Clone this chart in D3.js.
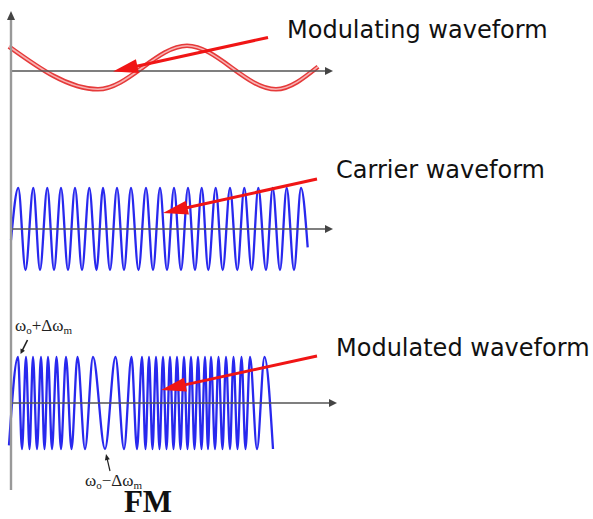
<!DOCTYPE html>
<html><head><meta charset="utf-8">
<script src="https://cdn.jsdelivr.net/npm/d3@7"></script>
<style>html,body{margin:0;padding:0;background:#fff;} svg{display:block}</style>
</head><body>
<svg id="c" width="593" height="519"></svg>
<script>
// ---- data (time units along the horizontal axis, amplitude units) ----
const modulatingTime  = [-2, 87, 176, 265, 307];
const modulatingValue = [1.02, -0.76, 1.05, -0.76, 0.18];

const carrierTime = [0, 7.3, 14.5, 22.3, 29, 36.3, 43, 50, 57, 64, 71, 78.3, 85.5, 92, 99, 106, 113, 120, 127.5, 135, 142,
  149, 156, 163, 170, 177, 184, 190.7, 197.3, 204.7, 211.7, 219, 226.3, 233.3, 240.7, 247.3, 255, 261.7, 269, 275.7, 283, 290, 296.7];
const carrierValue = [-0.27, 1, -1, 1, -1, 1, -1, 1, -1, 1, -1, 1, -1, 1, -1, 1, -1, 1, -1, 1, -1,
  1, -1, 1, -1, 1, -1, 1, -1, 1, -1, 1, -1, 1, -1, 1, -1, 1, -1, 1, -1, 1, -0.45];

const modulatedTime = [-2, 7, 11, 15, 18.5, 22, 26, 30, 33.5, 37, 41, 45.5, 50, 55, 60.5, 66.5, 74, 82, 94, 104.5, 113,
  120.5, 126, 131, 134.5, 138, 141.5, 145, 148.5, 152, 155.5, 159, 162.5, 166, 169.5, 173, 176.5, 180, 183.5, 187, 190.5,
  194, 197, 200, 204, 207.5, 211.5, 215, 219, 222.5, 226.5, 230.5, 234.5, 239, 246, 253.5, 262];
const modulatedValue = [-0.92, 1, -1, 1, -1, 1, -1, 1, -1, 1, -1, 1, -1, 1, -1, 1, -1, 1, -1, 1, -1,
  1, -1, 1, -1, 1, -1, 1, -1, 1, -1, 1, -1, 1, -1, 1, -1, 1, -1, 1, -1,
  1, -1, 1, -1, 1, -1, 1, -1, 1, -1, 1, -1, 1, -1, 1, -1];

const labels = ["Modulating waveform", "Carrier waveform", "Modulated waveform"];

// ---- drawing ----
const svg = d3.select('#c');
const x = d3.scaleLinear().domain([0, 322]).range([11, 333]);
const yMod = d3.scaleLinear().domain([-1, 1]).range([95, 47]);
const yCar = d3.scaleLinear().domain([-1, 1]).range([270, 188]);
const yFm  = d3.scaleLinear().domain([-1, 1]).range([449, 357]);

const zip = (t, v) => t.map((d, i) => ({t: d, v: v[i]}));
const lineFor = y => d3.line().x(d => x(d.t)).y(d => y(d.v)).curve(d3.curveMonotoneX);

// modulating (double red line)
const modData = zip(modulatingTime, modulatingValue);
svg.append('path').attr('d', lineFor(yMod)(modData)).attr('fill', 'none')
  .attr('stroke', '#e53a3a').attr('stroke-width', 4.6);
svg.append('path').attr('d', lineFor(yMod)(modData)).attr('fill', 'none')
  .attr('stroke', '#f8b2b2').attr('stroke-width', 1.6);

// carrier
svg.append('path').attr('d', lineFor(yCar)(zip(carrierTime, carrierValue))).attr('fill', 'none')
  .attr('stroke', '#2828ee').attr('stroke-width', 2.3);

// modulated
svg.append('path').attr('d', lineFor(yFm)(zip(modulatedTime, modulatedValue))).attr('fill', 'none')
  .attr('stroke', '#2828ee').attr('stroke-width', 2.3);

// horizontal axes with arrowheads
function hAxis(y, end) {
  const yy = y(0), x0 = x(0), x1 = x(end);
  svg.append('line').attr('x1', x0).attr('x2', x1 - 5).attr('y1', yy).attr('y2', yy)
    .attr('stroke', '#555').attr('stroke-width', 1.6);
  svg.append('path').attr('d', `M${x1},${yy} L${x1 - 8},${yy - 4} L${x1 - 8},${yy + 4} Z`).attr('fill', '#444');
}
hAxis(yMod, 322);
hAxis(yCar, 322);
hAxis(yFm, 326);

// vertical axis
svg.append('line').attr('x1', x(0)).attr('x2', x(0)).attr('y1', 18).attr('y2', 490)
  .attr('stroke', '#999').attr('stroke-width', 2.4);
svg.append('path').attr('d', `M${x(0)},11 L${x(0) - 4},20 L${x(0) + 4},20 Z`).attr('fill', '#444');

// red annotation arrows
function arrow(x1, y1, x2, y2, color, w, hl, hw) {
  const dx = x2 - x1, dy = y2 - y1, L = Math.hypot(dx, dy);
  const ux = dx / L, uy = dy / L, px = -uy, py = ux;
  const bx = x2 - ux * hl, by = y2 - uy * hl;
  svg.append('line').attr('x1', x1).attr('y1', y1).attr('x2', bx + ux * 2).attr('y2', by + uy * 2)
    .attr('stroke', color).attr('stroke-width', w);
  svg.append('path').attr('d', `M${x2},${y2} L${bx + px * hw},${by + py * hw} L${bx - px * hw},${by - py * hw} Z`)
    .attr('fill', color);
}
arrow(268, 37.5, 113, 71.5, '#f01515', 3, 25, 7);
arrow(317, 179, 163, 213, '#f01515', 3, 25, 7);
arrow(317, 356, 161, 390, '#f01515', 3, 25, 7);

// labels
const labelPos = [[287, 38], [336, 178], [336, 356]];
labels.forEach((t, i) => {
  svg.append('text').attr('x', labelPos[i][0]).attr('y', labelPos[i][1])
    .attr('font-family', 'DejaVu Sans, Verdana, sans-serif').attr('font-size', 24)
    .attr('fill', '#111').text(t);
});

// omega labels
function omegaLabel(xp, yp, sign) {
  const t = svg.append('text').attr('x', xp).attr('y', yp)
    .attr('font-family', 'Liberation Serif, Times New Roman, serif').attr('font-size', 17).attr('fill', '#222');
  t.append('tspan').text('ω');
  t.append('tspan').attr('font-size', 11).attr('dy', 3).text('o');
  t.append('tspan').attr('dy', -3).text(sign + 'Δω');
  t.append('tspan').attr('font-size', 11).attr('dy', 3).text('m');
}
omegaLabel(15, 331, '+');
omegaLabel(85, 486, '−');

// small pointer arrows
arrow(27.5, 340, 20.5, 354, '#222', 1.6, 5, 2.5);
arrow(110, 471, 106, 454, '#222', 1.2, 6, 2.5);

// FM title
svg.append('text').attr('x', 148).attr('y', 512).attr('text-anchor', 'middle')
  .attr('font-family', 'Liberation Serif, Times New Roman, serif').attr('font-weight', 'bold')
  .attr('font-size', 31).attr('fill', '#111').text('FM');
</script>
</body></html>
